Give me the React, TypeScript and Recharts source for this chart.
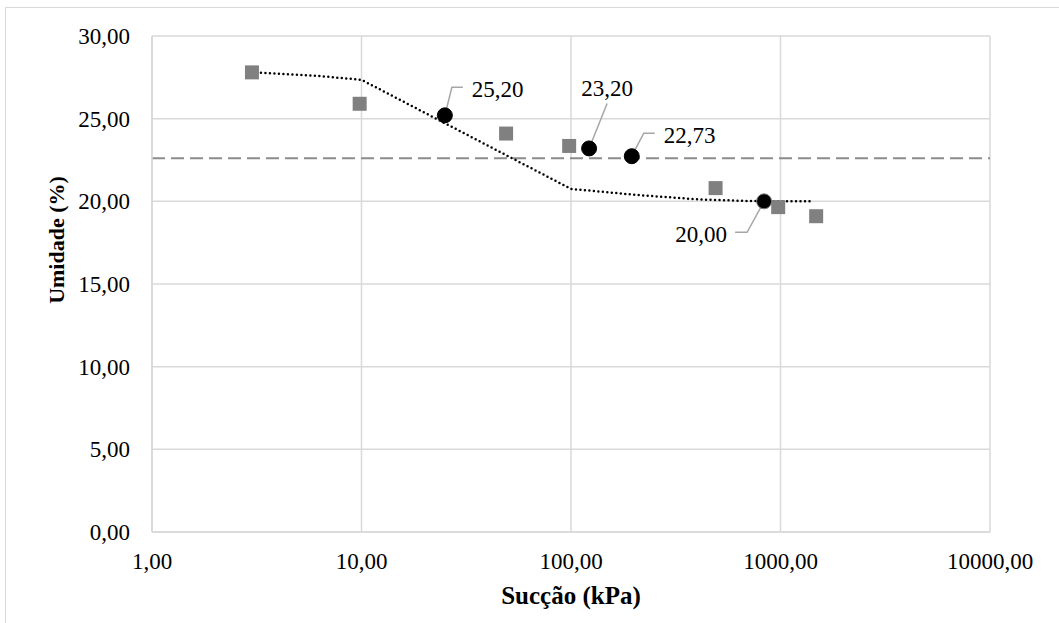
import React from 'react';
import { ComposedChart, Scatter, Line, XAxis, YAxis, CartesianGrid, ReferenceLine, Label } from 'recharts';

const FONT = 'Liberation Serif, Times New Roman, serif';

// measured points (gray squares)
const squareX = [3, 9.8, 49, 98, 490, 975, 1480];
const squareY = [27.8, 25.9, 24.1, 23.35, 20.8, 19.65, 19.1];

// highlighted points (black circles, labelled)
const circleX = [25, 122, 195, 835];
const circleY = [25.2, 23.2, 22.73, 20.0];

// dotted trend curve
const trendX = [3, 6, 10, 100, 200, 400, 700, 1420];
const trendY = [27.8, 27.6, 27.35, 20.75, 20.4, 20.12, 20.02, 20.0];

// dashed horizontal reference
const meanValue = 22.6;

const xTicks = [1, 10, 100, 1000, 10000];
const yTicks = [0, 5, 10, 15, 20, 25, 30];

const squares = squareX.map((x, i) => ({ x, y: squareY[i] }));
const circles = circleX.map((x, i) => ({ x, y: circleY[i] }));
const trend = trendX.map((x, i) => ({ x, y: trendY[i] }));

// label leader lines / text placement relative to each circle
const labelPlacement = [
  { leader: [[0, 0], [7, -28], [18, -28]], tx: 27, ty: -26, anchor: 'start' },
  { leader: [[0, 0], [18, -45]], tx: 18, ty: -60, anchor: 'middle' },
  { leader: [[0, 0], [12, -23], [23, -23]], tx: 32, ty: -21, anchor: 'start' },
  { leader: [[0, 0], [-17, 31], [-29, 31]], tx: -37, ty: 33, anchor: 'end' },
];

const fmt = (v: number) => v.toFixed(2).replace('.', ',');

const textStyle = { fontFamily: FONT };

const SquareShape = (props: any) => {
  const { cx, cy } = props;
  if (cx == null || cy == null) return null;
  return <rect x={cx - 7} y={cy - 7} width={14} height={14} fill="#808080" />;
};

const CircleShape = (props: any) => {
  const { cx, cy, payload } = props;
  if (cx == null || cy == null) return null;
  const idx = circleX.indexOf(payload.x);
  const p = labelPlacement[idx];
  return (
    <g>
      {p && (
        <polyline
          points={p.leader.map(([dx, dy]) => `${cx + dx},${cy + dy}`).join(' ')}
          fill="none"
          stroke="#a6a6a6"
          strokeWidth={1.5}
        />
      )}
      <circle cx={cx} cy={cy} r={7.5} fill="#000" stroke={idx === 3 ? '#808080' : '#000'} strokeWidth={1} />
      {p && (
        <text
          x={cx + p.tx}
          y={cy + p.ty}
          textAnchor={p.anchor as any}
          dominantBaseline="central"
          style={textStyle}
          fontSize={23}
          fill="#000"
        >
          {fmt(payload.y)}
        </text>
      )}
    </g>
  );
};

const App: React.FC = () => {
  return (
    <div style={{ position: 'absolute', left: 0, top: 0, width: 1059, height: 623, background: '#fff', fontFamily: FONT }}>
      <div
        style={{
          position: 'absolute',
          left: 5,
          top: 7,
          right: 0,
          bottom: 0,
          borderTop: '1px solid #d9d9d9',
          borderLeft: '1px solid #d9d9d9',
        }}
      />
      <ComposedChart
        width={1059}
        height={623}
        margin={{ top: 36, right: 69, bottom: 0, left: 0 }}
        style={{ position: 'absolute', left: 0, top: 0, fontFamily: FONT }}
      >
        <CartesianGrid stroke="#d9d9d9" strokeWidth={1.5} />
        <XAxis
          type="number"
          dataKey="x"
          scale="log"
          domain={[1, 10000]}
          ticks={xTicks}
          tickFormatter={fmt}
          allowDataOverflow
          height={91}
          tickLine={false}
          tickSize={0}
          tickMargin={21}
          axisLine={{ stroke: '#d9d9d9', strokeWidth: 1.5 }}
          tick={{ fill: '#000', fontSize: 23, style: textStyle }}
          interval={0}
        >
          <Label
            content={() => (
              <text x={571} y={595} textAnchor="middle" dominantBaseline="central" style={textStyle} fontSize={25} fontWeight="bold" fill="#000">
                Sucção (kPa)
              </text>
            )}
          />
        </XAxis>
        <YAxis
          type="number"
          dataKey="y"
          domain={[0, 30]}
          ticks={yTicks}
          tickFormatter={fmt}
          width={152}
          tickLine={false}
          tickSize={0}
          tickMargin={22}
          axisLine={{ stroke: '#d9d9d9', strokeWidth: 1.5 }}
          tick={{ fill: '#000', fontSize: 23, style: textStyle }}
          interval={0}
        >
          <Label
            content={() => (
              <text
                x={56}
                y={240}
                transform="rotate(-90 56 240)"
                textAnchor="middle"
                dominantBaseline="central"
                style={textStyle}
                fontSize={22}
                fontWeight="bold"
                fill="#000"
              >
                Umidade (%)
              </text>
            )}
          />
        </YAxis>
        <ReferenceLine y={meanValue} stroke="#8c8c8c" strokeWidth={2} strokeDasharray="13 6" />
        <Line
          data={trend}
          dataKey="y"
          type="linear"
          stroke="#000"
          strokeWidth={2.5}
          strokeDasharray="0 4.5"
          strokeLinecap="round"
          dot={false}
          activeDot={false}
          isAnimationActive={false}
        />
        <Scatter data={squares} dataKey="y" shape={SquareShape} isAnimationActive={false} />
        <Scatter data={circles} dataKey="y" shape={CircleShape} isAnimationActive={false} />
      </ComposedChart>
    </div>
  );
};

export default App;
